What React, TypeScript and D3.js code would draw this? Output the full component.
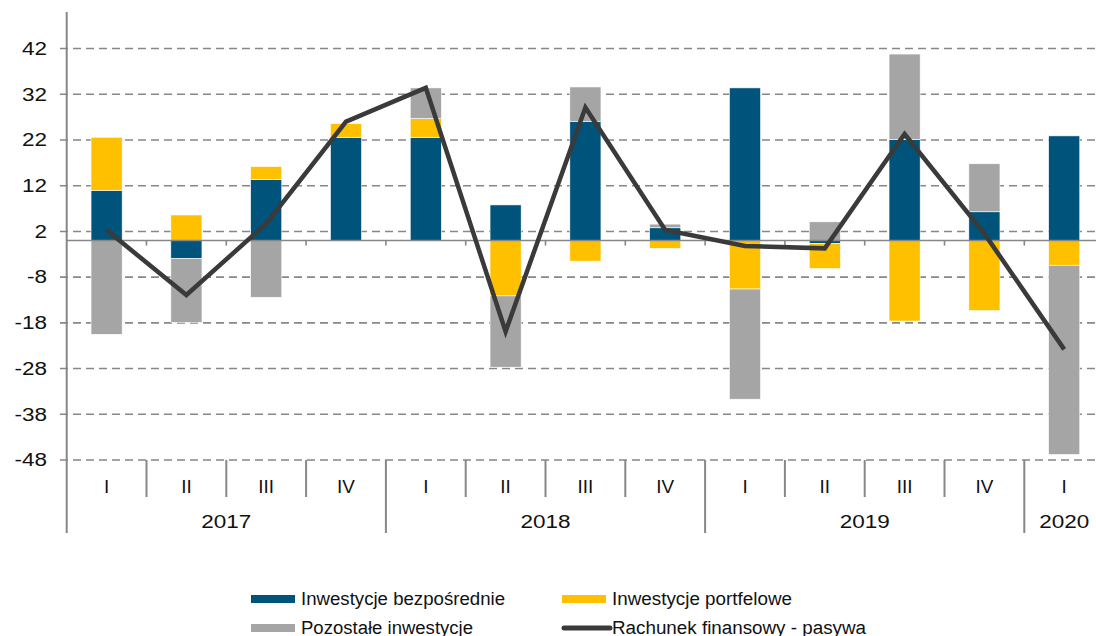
import React from "react";
import * as d3 from "d3";

const quarters = ["I", "II", "III", "IV", "I", "II", "III", "IV", "I", "II", "III", "IV", "I"];
const years = ["2017", "2017", "2017", "2017", "2018", "2018", "2018", "2018", "2019", "2019", "2019", "2019", "2020"];
const yearLabels = ["2017", "2018", "2019", "2020"];
const direct = [11.0, -3.9, 13.4, 22.6, 22.6, 7.8, 26.1, 2.8, 33.4, -0.6, 22.1, 6.3, 22.9];
const portfolio = [11.6, 5.6, 2.8, 3.0, 4.1, -12.1, -4.5, -1.7, -10.6, -5.5, -17.6, -15.3, -5.4];
const other = [-20.5, -14.0, -12.4, 0, 6.7, -15.6, 7.5, 0.8, -24.1, 4.1, 18.7, 10.5, -41.4];
const financial = [2.3, -11.9, 3.7, 26.0, 33.4, -19.9, 29.1, 2.3, -1.2, -1.7, 23.3, 1.5, -23.8];
const yTicks = [-48, -38, -28, -18, -8, 2, 12, 22, 32, 42];
const seriesNames = ["Inwestycje bezpośrednie", "Inwestycje portfelowe", "Pozostałe inwestycje", "Rachunek finansowy - pasywa"];
const legendWidths = [204, 180, 172, 254];
const colors = ["#00537A", "#FFC000", "#A5A5A5", "#3A3A3A"];

function SText({ x, y, anchor, sx, children, size }: any) {
  return (
    <text
      transform={`translate(${x},${y}) scale(${sx},1)`}
      dy="0.35em"
      textAnchor={anchor}
      fontSize={size}
      fill="#111"
    >
      {children}
    </text>
  );
}

export default function App() {
  const W = 1096, H = 636;
  const x0 = 66.7, bw = 79.8;
  const idx = quarters.map((_, i) => i);
  const x = d3.scaleBand<number>().domain(idx).range([x0, x0 + bw * quarters.length]).padding(0);
  const y = d3.scaleLinear().domain([-48, 50]).range([460, 12]);
  const rows = idx.map((i) => ({ i, a: direct[i], b: portfolio[i], c: other[i] }));
  const stack = d3.stack<any>().keys(["a", "b", "c"]).offset(d3.stackOffsetDiverging);
  const series = stack(rows);
  const barW = x.bandwidth() * 0.39;
  const cx = (i: number) => (x(i) as number) + x.bandwidth() / 2;
  const line = d3.line<number>().x((_, i) => cx(i)).y((d) => y(d));
  const font = "'Liberation Sans', Arial, sans-serif";
  const axisColor = "#878787";

  const groups: { year: string; start: number; end: number }[] = [];
  yearLabels.forEach((yr) => {
    const ids = idx.filter((i) => years[i] === yr);
    groups.push({ year: yr, start: ids[0], end: ids[ids.length - 1] });
  });
  const yearBoundaries = groups.slice(1).map((g) => x(g.start) as number);

  return (
    <svg width={W} height={H} style={{ position: "absolute", left: 0, top: 0, background: "#fff" }} fontFamily={font}>
      {yTicks.map((t) => (
        <g key={t}>
          <line x1={60} x2={W} y1={y(t)} y2={y(t)} stroke={axisColor} strokeWidth={1.6} strokeDasharray="8,5" />
          <SText x={47} y={y(t)} anchor="end" sx={1.25} size={18}>{t}</SText>
        </g>
      ))}
      {series.map((s, si) =>
        s.map((d, i) =>
          d[1] - d[0] !== 0 ? (
            <rect
              key={si + "-" + i}
              x={cx(i) - barW / 2}
              width={barW}
              y={y(Math.max(d[0], d[1]))}
              height={Math.abs(y(d[0]) - y(d[1]))}
              fill={colors[si]}
              stroke="#fff"
              strokeWidth={0.6}
            />
          ) : null
        )
      )}
      <line x1={x0} x2={W} y1={y(0)} y2={y(0)} stroke={axisColor} strokeWidth={1.6} />
      {idx.slice(1).map((i) => (
        <line key={"zt" + i} x1={x(i) as number} x2={x(i) as number} y1={y(0)} y2={y(0) + 5} stroke={axisColor} strokeWidth={1.6} />
      ))}
      <path d={line(financial) || ""} fill="none" stroke={colors[3]} strokeWidth={4.5} strokeLinejoin="miter" />
      <line x1={x0} x2={x0} y1={12} y2={533} stroke={axisColor} strokeWidth={2} />
      {idx.slice(1).map((i) => {
        const xx = x(i) as number;
        const isYear = yearBoundaries.includes(xx);
        return <line key={"cs" + i} x1={xx} x2={xx} y1={y(-48)} y2={isYear ? 533 : 497} stroke={axisColor} strokeWidth={2} />;
      })}
      {quarters.map((q, i) => (
        <SText key={"q" + i} x={cx(i)} y={487} anchor="middle" sx={1.05} size={18}>{q}</SText>
      ))}
      {groups.map((g) => (
        <SText key={g.year} x={((x(g.start) as number) + (x(g.end) as number) + x.bandwidth()) / 2} y={522} anchor="middle" sx={1.25} size={18}>{g.year}</SText>
      ))}
      {seriesNames.map((n, i) => {
        const lx = i % 2 === 0 ? 251 : 562;
        const ly = i < 2 ? 599 : 628;
        return (
          <g key={n}>
            {i < 3 ? (
              <rect x={lx} y={ly - 4} width={44} height={8} fill={colors[i]} />
            ) : (
              <line x1={lx + 2} x2={lx + 48} y1={ly} y2={ly} stroke={colors[i]} strokeWidth={5} strokeLinecap="round" />
            )}
            <text x={i === 3 ? lx + 50 : lx + 50} y={ly} dy="0.35em" fontSize={18} fill="#111" textLength={legendWidths[i]} lengthAdjust="spacingAndGlyphs">{n}</text>
          </g>
        );
      })}
    </svg>
  );
}
